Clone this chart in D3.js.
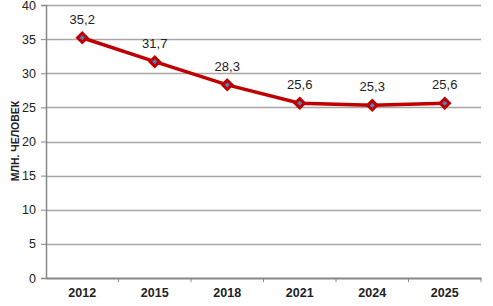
<!DOCTYPE html>
<html>
<head>
<meta charset="utf-8">
<script src="https://cdn.jsdelivr.net/npm/d3@7"></script>
<style>
  body { margin: 0; background: #fff; }
  svg { display: block; font-family: "Liberation Sans", Arial, sans-serif; }
</style>
</head>
<body>
<svg id="chart" width="493" height="306"></svg>
<script>
// data
const years = ["2012", "2015", "2018", "2021", "2024", "2025"];
const values = [35.2, 31.7, 28.3, 25.6, 25.3, 25.6];
const yTicks = [0, 5, 10, 15, 20, 25, 30, 35, 40];
const yTitle = "МЛН. ЧЕЛОВЕК";

const margin = {top: 5, right: 12, bottom: 28, left: 46};
const W = 493, H = 306;
const width = W - margin.left - margin.right;
const height = H - margin.top - margin.bottom;

const svg = d3.select("#chart");
const g = svg.append("g")
    .attr("transform", "translate(" + margin.left + "," + margin.top + ")");

const x = d3.scaleBand().domain(years).range([0, width]);
const y = d3.scaleLinear().domain([0, 40]).range([height, 0]);

// gridlines
g.append("g")
    .selectAll("line")
    .data(yTicks.filter(d => d > 0))
    .enter()
    .append("line")
    .attr("x1", 0)
    .attr("x2", width)
    .attr("y1", d => Math.round(y(d)) + 0.5)
    .attr("y2", d => Math.round(y(d)) + 0.5)
    .attr("stroke", "#a6a6a6")
    .attr("stroke-width", 1.5);

// y axis
const yAxis = g.append("g")
    .call(d3.axisLeft(y).tickValues(yTicks).tickSize(5).tickPadding(5));
yAxis.select(".domain").attr("stroke", "#868686").attr("stroke-width", 1.5);
yAxis.selectAll(".tick line").attr("stroke", "#868686");
yAxis.selectAll("text").attr("font-size", 12.5).attr("fill", "#222");

// x axis
const xAxis = g.append("g")
    .attr("transform", "translate(0," + height + ")")
    .call(d3.axisBottom(x).tickSize(0).tickPadding(10));
xAxis.select(".domain").attr("stroke", "#868686").attr("stroke-width", 2);
xAxis.selectAll("text").attr("font-size", 12.5).attr("font-weight", "bold").attr("fill", "#222");

// tick marks between categories
g.append("g")
    .selectAll("line")
    .data(years.slice(1).concat(["end"]))
    .enter()
    .append("line")
    .attr("x1", (d, i) => x.step() * (i + 1))
    .attr("x2", (d, i) => x.step() * (i + 1))
    .attr("y1", height)
    .attr("y2", height + 4)
    .attr("stroke", "#868686");

// y title
svg.append("text")
    .attr("transform", "translate(19,141) rotate(-90)")
    .attr("text-anchor", "middle")
    .attr("font-size", 10.5)
    .attr("font-weight", "bold")
    .attr("fill", "#222")
    .text(yTitle);

const cx = (d, i) => x(years[i]) + x.bandwidth() / 2;

// line
const line = d3.line()
    .x((d, i) => cx(d, i))
    .y(d => y(d));
g.append("path")
    .datum(values)
    .attr("d", line)
    .attr("fill", "none")
    .attr("stroke", "#c00000")
    .attr("stroke-width", 3.5);

// diamond markers
g.append("g")
    .selectAll("path")
    .data(values)
    .enter()
    .append("path")
    .attr("transform", (d, i) => "translate(" + cx(d, i) + "," + y(d) + ")")
    .attr("d", d3.symbol().type(d3.symbolDiamond2).size(55))
    .attr("fill", "#4f81bd")
    .attr("stroke", "#c00000")
    .attr("stroke-width", 3);

// data labels
g.append("g")
    .selectAll("text")
    .data(values)
    .enter()
    .append("text")
    .attr("x", (d, i) => cx(d, i))
    .attr("y", d => y(d) - 14)
    .attr("text-anchor", "middle")
    .attr("font-size", 13)
    .attr("fill", "#222")
    .text(d => d.toFixed(1).replace(".", ","));
</script>
</body>
</html>
